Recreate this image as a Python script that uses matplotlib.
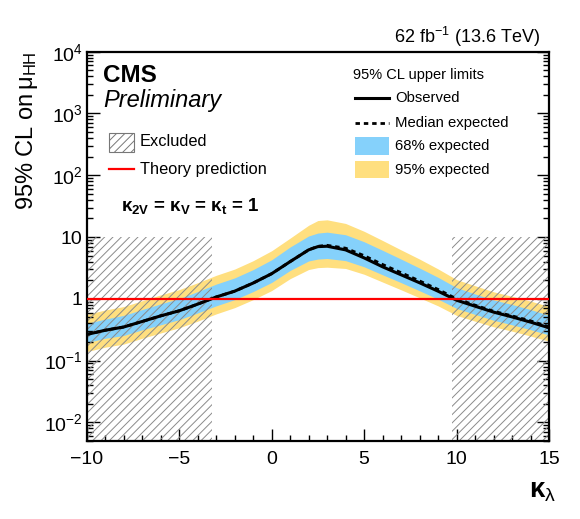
import numpy as np
import matplotlib
matplotlib.use("Agg")
import matplotlib.pyplot as plt
from matplotlib.patches import Rectangle
from matplotlib.lines import Line2D
from matplotlib.ticker import MultipleLocator, FixedLocator, FuncFormatter, NullFormatter

plt.rcParams['font.family'] = ['Liberation Sans', 'DejaVu Sans']
plt.rcParams['mathtext.fontset'] = 'custom'
plt.rcParams['mathtext.rm'] = 'Liberation Sans'
plt.rcParams['mathtext.it'] = 'Liberation Sans:italic'
plt.rcParams['mathtext.bf'] = 'Liberation Sans:bold'
plt.rcParams['hatch.linewidth'] = 0.7

# kappa_lambda scan points
kl = [-10, -9, -8, -7, -6, -5, -4, -3, -2, -1, 0, 1, 2, 2.5, 3, 4, 5, 6, 7, 8, 9, 10, 11, 12, 13, 14, 15]
# observed and median expected limits on mu_HH
obs = [0.265, 0.31, 0.35, 0.43, 0.53, 0.64, 0.82, 1.07, 1.33, 1.8, 2.55, 4.0, 6.2, 7.0, 7.1,
       6.2, 4.6, 3.3, 2.45, 1.82, 1.33, 0.95, 0.76, 0.61, 0.51, 0.42, 0.34]
exp = [0.265, 0.31, 0.35, 0.43, 0.53, 0.64, 0.82, 1.07, 1.33, 1.8, 2.55, 4.0, 6.2, 7.1, 7.35,
       6.6, 5.0, 3.6, 2.65, 1.95, 1.42, 1.0, 0.79, 0.63, 0.53, 0.44, 0.355]
# 68% band
b68_hi = [0.40, 0.47, 0.54, 0.67, 0.83, 1.01, 1.31, 1.73, 2.18, 2.97, 4.28, 6.9, 10.4, 11.6, 12.0,
          10.9, 8.4, 6.1, 4.4, 3.15, 2.23, 1.52, 1.2, 0.96, 0.81, 0.67, 0.54]
b68_lo = [0.196, 0.23, 0.255, 0.315, 0.38, 0.46, 0.59, 0.77, 0.97, 1.31, 1.84, 2.88, 4.1, 4.4, 4.5,
          4.15, 3.3, 2.45, 1.83, 1.35, 0.99, 0.70, 0.56, 0.45, 0.38, 0.317, 0.26]
# 95% band
b95_hi = [0.56, 0.66, 0.75, 0.93, 1.16, 1.41, 1.82, 2.4, 3.03, 4.14, 6.0, 9.6, 15.5, 18.5, 19.0,
          16.6, 12.4, 8.8, 6.2, 4.4, 3.05, 2.05, 1.63, 1.3, 1.1, 0.92, 0.75]
b95_lo = [0.14, 0.165, 0.185, 0.23, 0.28, 0.34, 0.435, 0.57, 0.72, 0.97, 1.36, 2.12, 2.98, 3.2, 3.25,
          3.1, 2.5, 1.87, 1.4, 1.04, 0.77, 0.54, 0.435, 0.353, 0.30, 0.25, 0.206]

excl_left = [-10, -3.25]
excl_right = [9.75, 15]
excl_top = 10
theory = 1.0

y_major = [1e-2, 1e-1, 1, 10, 1e2, 1e3, 1e4]

c68 = '#85D1FB'
c95 = '#FFDF7F'
hatch_col = '#8a8a8a'

W, H = 580, 519
fig = plt.figure(figsize=(W / 100, H / 100), dpi=100)
ax = fig.add_axes([86.7 / W, 1 - 441 / H, (549 - 86.7) / W, (441 - 51.7) / H])

def fx(px):
    return px / W

def fy(py):
    return 1 - py / H

ax.fill_between(kl, b95_lo, b95_hi, color=c95, lw=0, zorder=1)
ax.fill_between(kl, b68_lo, b68_hi, color=c68, lw=0, zorder=1.5)
for reg in (excl_left, excl_right):
    ax.fill_between(reg, 1e-4, excl_top, facecolor='none', edgecolor=hatch_col,
                    hatch='////', lw=0, zorder=2)
ax.plot(kl, exp, color='black', lw=2.0, ls=(0, (1.6, 1.4)), zorder=3)
ax.plot(kl, obs, color='black', lw=2.2, zorder=3.5)
ax.axhline(theory, color='red', lw=1.6, zorder=4)

ax.set_yscale('log')
ax.set_xlim(-10, 15)
ax.set_ylim(0.005, 1e4)

ax.xaxis.set_major_locator(MultipleLocator(5))
ax.xaxis.set_minor_locator(MultipleLocator(1))
ax.yaxis.set_major_locator(FixedLocator(y_major))
minors = [m * d for d in [1e-3] + y_major[:-1] for m in range(2, 10)]
ax.yaxis.set_minor_locator(FixedLocator([v for v in minors if 0.005 <= v <= 1e4]))
ax.yaxis.set_minor_formatter(NullFormatter())

def ylab(v, pos):
    e = int(round(np.log10(v)))
    if e == 0:
        return '1'
    if e == 1:
        return '10'
    return r'$10^{%d}$' % e

ax.yaxis.set_major_formatter(FuncFormatter(ylab))
ax.xaxis.set_major_formatter(FuncFormatter(lambda v, p: ('%d' % v).replace('-', '\u2212')))

ax.tick_params(which='both', direction='in', top=False, right=True, width=1.0)
ax.tick_params(which='major', length=9, labelsize=14)
ax.tick_params(axis='x', which='major', pad=7)
ax.tick_params(axis='y', which='major', pad=3)
ax.tick_params(which='minor', length=4.5)
for s in ax.spines.values():
    s.set_linewidth(1.6)

ax.set_ylabel(r'95% CL on$\,\mathrm{\mu}_{\mathrm{HH}}$', fontsize=17, loc='top')
ax.yaxis.set_label_coords(-0.100, 1.0)
ax.set_xlabel(r'$\mathbf{\kappa}_{\mathrm{\lambda}}$', fontsize=20, loc='right')
ax.xaxis.set_label_coords(1.016, -0.095)

# CMS label
fig.text(fx(103), fy(76), 'CMS', fontsize=17.5, fontweight='bold', va='center', ha='left')
fig.text(fx(103), fy(100), 'Preliminary', fontsize=17, style='italic', va='center', ha='left')
fig.text(fx(540), fy(37), r'62 fb$^{-1}$ (13.6 TeV)', fontsize=13, va='center', ha='right')

# left legend
fig.patches.append(Rectangle((fx(109), fy(152)), fx(134) - fx(109), fy(133) - fy(152),
                             transform=fig.transFigure, facecolor='white', edgecolor='#777777',
                             hatch='////', lw=0.8))
fig.text(fx(140), fy(142), 'Excluded', fontsize=11.8, va='center', ha='left')
fig.lines.append(Line2D([fx(109), fx(134)], [fy(169), fy(169)], transform=fig.transFigure,
                        color='red', lw=1.6))
fig.text(fx(140), fy(169), 'Theory prediction', fontsize=11.8, va='center', ha='left')
fig.text(fx(121), fy(206), r'$\mathbf{\kappa_{2V}}$ = $\mathbf{\kappa_{V}}$ = $\mathbf{\kappa_{t}}$ = 1',
         fontsize=13.5, fontweight='bold', va='center', ha='left')

# right legend
fig.text(fx(353), fy(75), '95% CL upper limits', fontsize=10.5, va='center', ha='left')
fig.lines.append(Line2D([fx(355), fx(389)], [fy(98), fy(98)], transform=fig.transFigure,
                        color='black', lw=2.2))
fig.text(fx(395), fy(98), 'Observed', fontsize=10.7, va='center', ha='left')
fig.lines.append(Line2D([fx(355), fx(389)], [fy(123), fy(123)], transform=fig.transFigure,
                        color='black', lw=2.0, ls=(0, (1.6, 1.4))))
fig.text(fx(395), fy(123), 'Median expected', fontsize=10.7, va='center', ha='left')
fig.patches.append(Rectangle((fx(355), fy(155)), fx(389) - fx(355), fy(137) - fy(155),
                             transform=fig.transFigure, facecolor=c68, lw=0))
fig.text(fx(395), fy(146), '68% expected', fontsize=10.7, va='center', ha='left')
fig.patches.append(Rectangle((fx(355), fy(178)), fx(389) - fx(355), fy(161) - fy(178),
                             transform=fig.transFigure, facecolor=c95, lw=0))
fig.text(fx(395), fy(170), '95% expected', fontsize=10.7, va='center', ha='left')

fig.savefig('out.png', dpi=100)
